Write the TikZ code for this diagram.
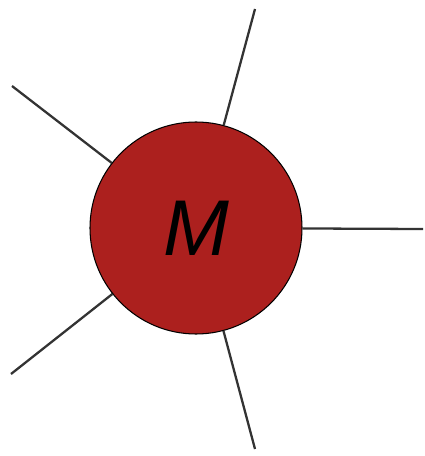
\documentclass[tikz,border=0pt]{standalone}
\usepackage{fontspec}
\setsansfont{Liberation Sans}
\usepackage{tikz}

\begin{document}
\begin{tikzpicture}[x=0.02cm,y=-0.02cm]
\tikzset{massnode/.style={circle,draw=black,line width=0.6pt,fill=massred,minimum size=212*0.02cm,inner sep=0pt,font=\sffamily\itshape\fontsize{45}{45}\selectfont},
spoke/.style={line width=1.3pt,color=black!80}};
\definecolor{massred}{RGB}{172,32,30}
\useasboundingbox (0,0) rectangle (425,456);
    \node[massnode] (mass) at (196,228) {M};
    \coordinate (e1) at (12,86);
    \coordinate (e2) at (255,9);
    \coordinate (e3) at (423,229);
    \coordinate (e4) at (11,374);
    \coordinate (e5) at (255,449);
    \draw[spoke] (mass) -- (e1);
    \draw[spoke] (mass) -- (e2);
    \draw[spoke] (mass) -- (e3);
    \draw[spoke] (mass) -- (e4);
    \draw[spoke] (mass) -- (e5);
\end{tikzpicture}
\end{document}
